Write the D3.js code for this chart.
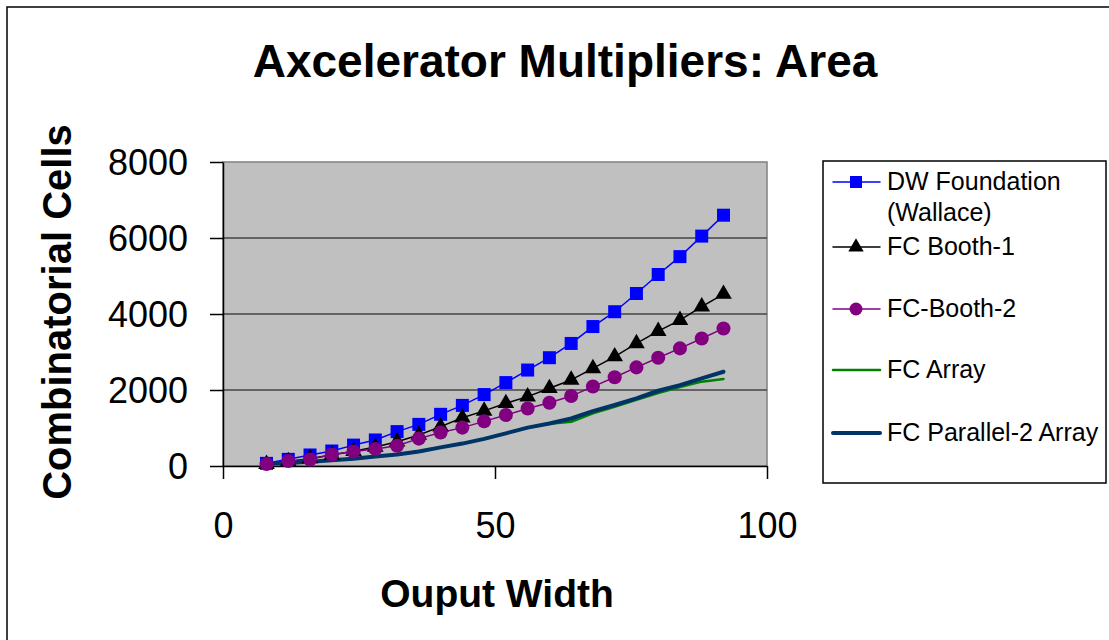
<!DOCTYPE html>
<html lang="en">
  <head>
    <meta charset="utf-8">
    <title>Axcelerator Multipliers: Area</title>
    <script src="https://d3js.org/d3.v7.min.js"></script>
    <style type="text/css">
      body { margin: 0; background: #fff; }
      text { font-family: Arial, "Liberation Sans", sans-serif; }
    </style>
  </head>
  <body>
<svg width="1109" height="640"></svg>
<script>

// output widths (x values)
var widths = [8, 12, 16, 20, 24, 28, 32, 36, 40, 44, 48, 52, 56, 60, 64, 68, 72, 76, 80, 84, 88, 92];

// combinatorial cells per series
var dwFoundation = [70, 175, 290, 395, 550, 685, 905, 1095, 1360, 1595, 1880, 2195, 2525, 2850, 3225, 3670, 4060, 4540, 5040, 5510, 6050, 6600];
var fcBooth1 = [50, 120, 200, 290, 390, 500, 640, 815, 1035, 1270, 1450, 1650, 1825, 2045, 2265, 2570, 2880, 3225, 3550, 3840, 4195, 4525];
var fcBooth2 = [50, 130, 170, 305, 380, 450, 535, 720, 880, 1010, 1175, 1340, 1515, 1665, 1840, 2090, 2335, 2595, 2850, 3095, 3355, 3620];
var fcArray = [55, 80, 110, 150, 190, 250, 300, 380, 490, 590, 710, 860, 1010, 1110, 1165, 1385, 1560, 1740, 1920, 2080, 2220, 2290];
var fcParallel2 = [60, 80, 110, 150, 190, 250, 300, 380, 490, 590, 715, 860, 1010, 1120, 1250, 1445, 1605, 1780, 1980, 2130, 2305, 2480];

var xTicks = [0, 50, 100];
var yTicks = [0, 2000, 4000, 6000, 8000];

var series = [
  {name: ["DW Foundation", "(Wallace)"], values: dwFoundation, color: "#0000ff", width: 1.5, marker: "square"},
  {name: ["FC Booth-1"], values: fcBooth1, color: "#000000", width: 1.5, marker: "triangle"},
  {name: ["FC-Booth-2"], values: fcBooth2, color: "#800080", width: 1.5, marker: "circle"},
  {name: ["FC Array"], values: fcArray, color: "#008000", width: 2.5, marker: null},
  {name: ["FC Parallel-2 Array"], values: fcParallel2, color: "#003366", width: 4, marker: null}
];

var svg = d3.select("svg");

var plot = {left: 223, right: 767, top: 162, bottom: 466};

var xScale = d3.scaleLinear().domain([0, 100]).range([plot.left, plot.right]),
    yScale = d3.scaleLinear().domain([0, 8000]).range([plot.bottom, plot.top]);

// outer frame (only top and left edges visible)
svg.append("rect")
    .attr("x", 7).attr("y", 7)
    .attr("width", 1200).attr("height", 700)
    .attr("fill", "none")
    .attr("stroke", "#000")
    .attr("stroke-width", 1.5);

// title
svg.append("text")
    .attr("x", 565)
    .attr("y", 77)
    .attr("text-anchor", "middle")
    .attr("font-weight", "bold")
    .style("font-size", "46px")
    .text("Axcelerator Multipliers: Area");

// plot background
svg.append("rect")
    .attr("x", plot.left).attr("y", plot.top)
    .attr("width", plot.right - plot.left)
    .attr("height", plot.bottom - plot.top)
    .attr("fill", "#c0c0c0")
    .attr("stroke", "#808080")
    .attr("stroke-width", 1.5);

// gridlines
svg.append("g")
    .selectAll("line")
    .data(yTicks.filter(function(d) { return d > 0 && d < 8000; }))
    .enter().append("line")
      .attr("x1", plot.left).attr("x2", plot.right)
      .attr("y1", function(d) { return yScale(d); })
      .attr("y2", function(d) { return yScale(d); })
      .attr("stroke", "#444")
      .attr("stroke-width", 1.5);

// y axis
var yAxis = svg.append("g")
    .attr("class", "axis y-axis")
    .attr("transform", "translate(" + plot.left + ",0)")
    .call(d3.axisLeft(yScale).tickValues(yTicks).tickFormat(d3.format("d"))
      .tickSize(13).tickPadding(22).tickSizeOuter(0));

// x axis
var xAxis = svg.append("g")
    .attr("class", "axis x-axis")
    .attr("transform", "translate(0," + plot.bottom + ")")
    .call(d3.axisBottom(xScale).tickValues(xTicks).tickFormat(d3.format("d"))
      .tickSize(13).tickPadding(33).tickSizeOuter(0));

svg.selectAll(".axis path, .axis line").attr("stroke", "#000").attr("stroke-width", 1.5);
svg.selectAll(".axis text")
    .attr("fill", "#000")
    .style("font-size", "36px")
    .style("font-family", "Arial, 'Liberation Sans', sans-serif");
yAxis.selectAll("text").attr("dy", "0.36em");

// axis titles
svg.append("text")
    .attr("x", 497)
    .attr("y", 607)
    .attr("text-anchor", "middle")
    .attr("font-weight", "bold")
    .style("font-size", "39px")
    .text("Ouput Width");

svg.append("text")
    .attr("transform", "translate(71,312) rotate(-90)")
    .attr("text-anchor", "middle")
    .attr("font-weight", "bold")
    .style("font-size", "40px")
    .text("Combinatorial Cells");

// lines
var line = d3.line()
    .x(function(d, i) { return xScale(widths[i]); })
    .y(function(d) { return yScale(d); });

svg.append("g")
    .selectAll("path")
    .data(series)
    .enter().append("path")
      .attr("d", function(s) { return line(s.values); })
      .attr("fill", "none")
      .attr("stroke", function(s) { return s.color; })
      .attr("stroke-width", function(s) { return s.width; })
      .attr("stroke-linejoin", "round")
      .attr("stroke-linecap", "round");

// markers
var symbolType = {square: d3.symbolSquare, triangle: d3.symbolTriangle, circle: d3.symbolCircle};
var symbolSize = {square: 169, triangle: 120, circle: 155};

function markerPath(type) {
  return d3.symbol().type(symbolType[type]).size(symbolSize[type])();
}

series.filter(function(s) { return s.marker; }).forEach(function(s) {
  svg.append("g")
    .selectAll("path")
    .data(s.values)
    .enter().append("path")
      .attr("transform", function(d, i) { return "translate(" + xScale(widths[i]) + "," + yScale(d) + ")"; })
      .attr("d", markerPath(s.marker))
      .attr("fill", s.color);
});

// legend
var legend = svg.append("g").attr("transform", "translate(823,161)");

legend.append("rect")
    .attr("width", 283)
    .attr("height", 322)
    .attr("fill", "#fff")
    .attr("stroke", "#000")
    .attr("stroke-width", 1.5);

var legendY = [21, 86, 148, 209, 272];

var item = legend.selectAll(".item")
    .data(series)
    .enter().append("g")
      .attr("class", "item")
      .attr("transform", function(s, i) { return "translate(0," + legendY[i] + ")"; });

item.append("line")
    .attr("x1", 10).attr("x2", 57)
    .attr("stroke", function(s) { return s.color; })
    .attr("stroke-width", function(s) { return s.width; })
    .attr("stroke-linecap", "round");

item.filter(function(s) { return s.marker; })
  .append("path")
    .attr("transform", "translate(33,0)")
    .attr("d", function(s) { return d3.symbol().type(symbolType[s.marker]).size(symbolSize[s.marker] * 0.85)(); })
    .attr("fill", function(s) { return s.color; });

item.append("text")
    .attr("x", 64)
    .attr("y", 8)
    .style("font-size", "25px")
    .selectAll("tspan")
    .data(function(s) { return s.name; })
    .enter().append("tspan")
      .attr("x", 64)
      .attr("dy", function(d, i) { return i === 0 ? 0 : 31; })
      .text(function(d) { return d; });

</script>
  </body>
</html>
